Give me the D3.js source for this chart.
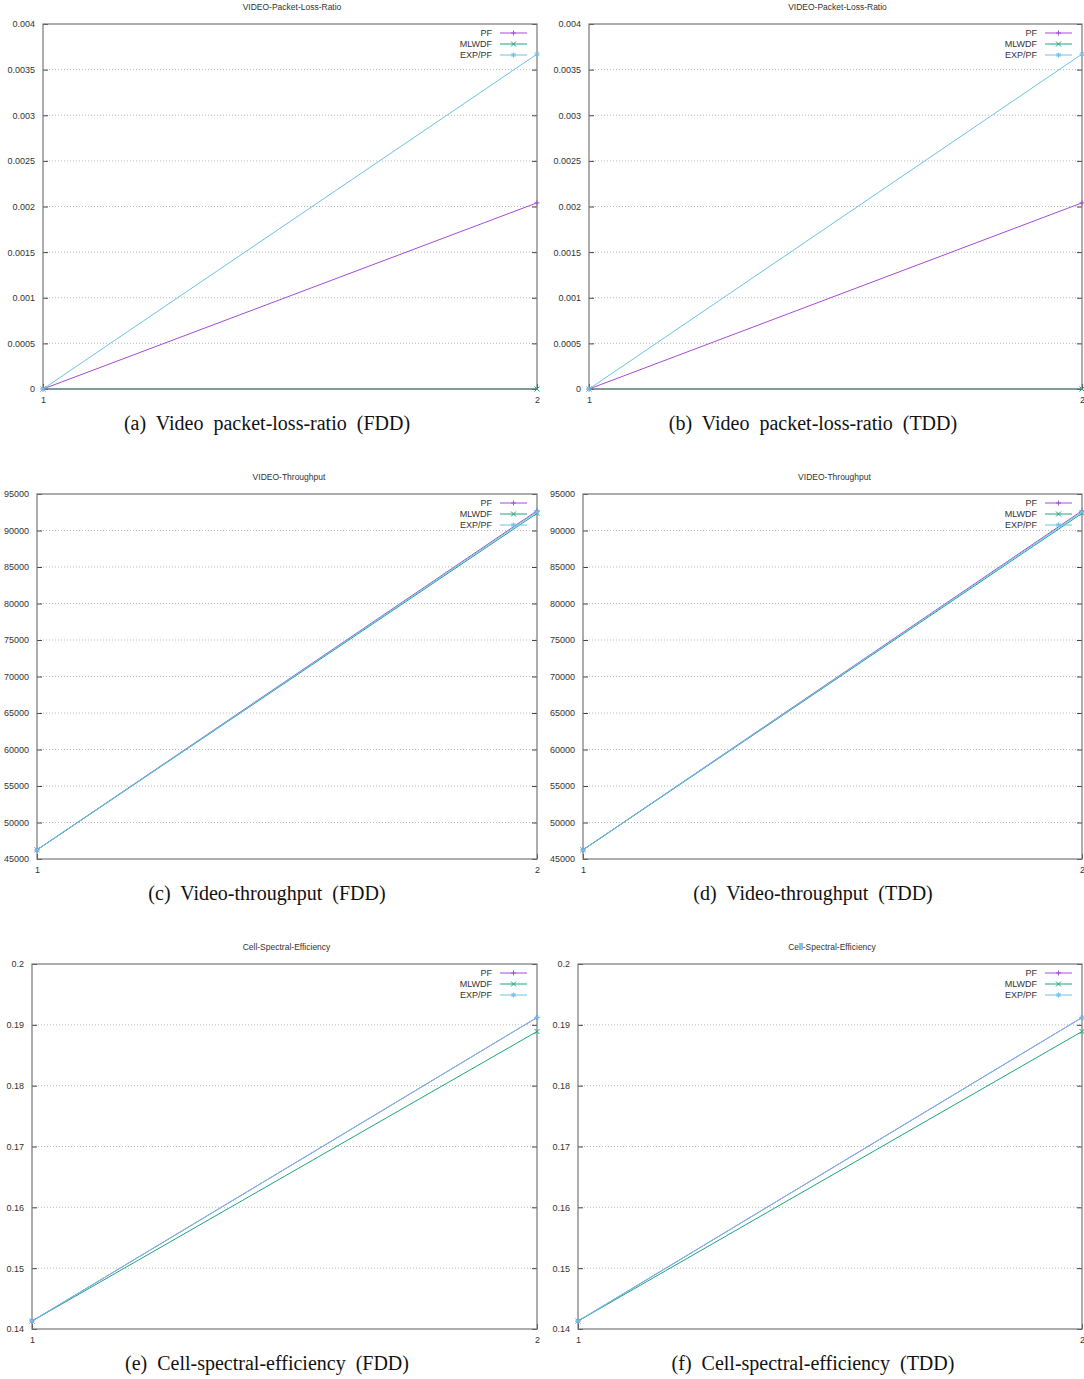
<!DOCTYPE html>
<html>
<head>
<meta charset="utf-8">
<script src="https://cdn.jsdelivr.net/npm/d3@7"></script>
<style>
  body { margin: 0; background: #fff; }
  svg { display: block; }
  .tick-label { font-family: "Liberation Sans", Arial, sans-serif; font-size: 9px; fill: #333; }
  .plot-title { font-family: "Liberation Sans", Arial, sans-serif; font-size: 8.5px; fill: #333; }
  .caption { font-family: "Liberation Serif", "Times New Roman", serif; font-size: 20px; word-spacing: 5px; fill: #111; }
</style>
</head>
<body>
<div id="chart"></div>
<script>
// shared x categories (scenario index)
const xValues = [1, 2];
const seriesNames = ['PF', 'MLWDF', 'EXP/PF'];
const seriesColors = ['#a64ad8', '#1aa57e', '#6cc2e6'];
const seriesMarkers = ['plus', 'cross', 'star'];

// packet loss ratio (same in FDD and TDD)
const plrPF = [0, 0.00204];
const plrMLWDF = [0, 0];
const plrEXP = [0, 0.00367];
const plrTicks = [0, 0.0005, 0.001, 0.0015, 0.002, 0.0025, 0.003, 0.0035, 0.004];

// video throughput
const thrPF = [46250, 92700];
const thrMLWDF = [46250, 92350];
const thrEXP = [46250, 92550];
const thrTicks = [45000, 50000, 55000, 60000, 65000, 70000, 75000, 80000, 85000, 90000, 95000];

// cell spectral efficiency
const csePF = [0.1413, 0.1912];
const cseMLWDF = [0.1413, 0.1889];
const cseEXP = [0.1413, 0.1912];
const cseTicks = [0.14, 0.15, 0.16, 0.17, 0.18, 0.19, 0.2];

const panels = [
  { title: 'VIDEO-Packet-Loss-Ratio', caption: '(a) Video packet-loss-ratio (FDD)', series: [plrPF, plrMLWDF, plrEXP], ticks: plrTicks,
    x0: 43, x1: 537, y0: 24, y1: 389 },
  { title: 'VIDEO-Packet-Loss-Ratio', caption: '(b) Video packet-loss-ratio (TDD)', series: [plrPF, plrMLWDF, plrEXP], ticks: plrTicks,
    x0: 589, x1: 1082, y0: 24, y1: 389 },
  { title: 'VIDEO-Throughput', caption: '(c) Video-throughput (FDD)', series: [thrPF, thrMLWDF, thrEXP], ticks: thrTicks,
    x0: 37, x1: 537, y0: 494, y1: 859 },
  { title: 'VIDEO-Throughput', caption: '(d) Video-throughput (TDD)', series: [thrPF, thrMLWDF, thrEXP], ticks: thrTicks,
    x0: 583, x1: 1082, y0: 494, y1: 859 },
  { title: 'Cell-Spectral-Efficiency', caption: '(e) Cell-spectral-efficiency (FDD)', series: [csePF, cseMLWDF, cseEXP], ticks: cseTicks,
    x0: 32, x1: 537, y0: 964, y1: 1329 },
  { title: 'Cell-Spectral-Efficiency', caption: '(f) Cell-spectral-efficiency (TDD)', series: [csePF, cseMLWDF, cseEXP], ticks: cseTicks,
    x0: 578, x1: 1082, y0: 964, y1: 1329 }
];

const width = 1084, height = 1379;
const svg = d3.select('#chart').append('svg')
  .attr('width', width)
  .attr('height', height);

function drawMarker(g, type, x, y, color) {
  const s = 2.5;
  let d;
  if (type === 'plus') d = `M${x - s},${y}H${x + s}M${x},${y - s}V${y + s}`;
  else if (type === 'cross') d = `M${x - s},${y - s}L${x + s},${y + s}M${x - s},${y + s}L${x + s},${y - s}`;
  else d = `M${x - s},${y}H${x + s}M${x},${y - s}V${y + s}M${x - s * 0.75},${y - s * 0.75}L${x + s * 0.75},${y + s * 0.75}M${x - s * 0.75},${y + s * 0.75}L${x + s * 0.75},${y - s * 0.75}`;
  g.append('path').attr('d', d).attr('stroke', color).attr('stroke-width', 1).attr('fill', 'none');
}

panels.forEach(p => {
  const g = svg.append('g');
  const x = d3.scaleLinear().domain([1, 2]).range([p.x0, p.x1]);
  const y = d3.scaleLinear().domain(d3.extent(p.ticks)).range([p.y1, p.y0]);
  const fmt = v => String(+v.toPrecision(6));

  // grid
  g.selectAll('.grid').data(p.ticks.slice(1, -1)).enter().append('line')
    .attr('x1', p.x0).attr('x2', p.x1)
    .attr('y1', d => y(d)).attr('y2', d => y(d))
    .attr('stroke', '#aaa').attr('stroke-width', 0.8)
    .attr('stroke-dasharray', '1,2');

  // series
  const line = d3.line().x((d, i) => x(xValues[i])).y(d => y(d));
  p.series.forEach((vals, si) => {
    g.append('path').datum(vals)
      .attr('d', line)
      .attr('fill', 'none')
      .attr('stroke', seriesColors[si])
      .attr('stroke-width', 1);
  });

  // y axis left
  const yAxis = g.append('g').attr('transform', `translate(${p.x0},0)`)
    .call(d3.axisLeft(y).tickValues(p.ticks).tickFormat(fmt).tickSizeInner(-5).tickSizeOuter(0).tickPadding(8));
  // mirror ticks on right
  const yAxisR = g.append('g').attr('transform', `translate(${p.x1},0)`)
    .call(d3.axisRight(y).tickValues(p.ticks).tickFormat('').tickSizeInner(-5).tickSizeOuter(0));
  const xAxis = g.append('g').attr('transform', `translate(0,${p.y1})`)
    .call(d3.axisBottom(x).tickValues(xValues).tickFormat(d3.format('d')).tickSizeInner(-5).tickSizeOuter(0).tickPadding(8));
  [yAxis, yAxisR, xAxis].forEach(a => {
    a.select('.domain').remove();
    a.selectAll('line').attr('stroke', '#444');
    a.selectAll('text').attr('class', 'tick-label').attr('fill', '#333');
  });

  // border drawn over the lines
  g.append('rect')
    .attr('x', p.x0).attr('y', p.y0)
    .attr('width', p.x1 - p.x0).attr('height', p.y1 - p.y0)
    .attr('fill', 'none').attr('stroke', '#777').attr('stroke-width', 1.2);

  // point markers
  p.series.forEach((vals, si) => {
    vals.forEach((v, i) => drawMarker(g, seriesMarkers[si], x(xValues[i]), y(v), seriesColors[si]));
  });

  // legend
  const lx = p.x1 - 45, ly = p.y0 + 9;
  seriesNames.forEach((name, si) => {
    const yy = ly + si * 11;
    g.append('text').attr('class', 'tick-label')
      .attr('x', lx).attr('y', yy).attr('dy', '0.35em')
      .attr('text-anchor', 'end').text(name);
    g.append('line')
      .attr('x1', lx + 8).attr('x2', lx + 35)
      .attr('y1', yy).attr('y2', yy)
      .attr('stroke', seriesColors[si]).attr('stroke-width', 1);
    drawMarker(g, seriesMarkers[si], lx + 21.5, yy, seriesColors[si]);
  });

  // title
  g.append('text').attr('class', 'plot-title')
    .attr('x', (p.x0 + p.x1) / 2 + 2).attr('y', p.y0 - 14)
    .attr('text-anchor', 'middle').text(p.title);

  // caption
  g.append('text').attr('class', 'caption')
    .attr('x', p.x0 < 300 ? 267 : 813).attr('y', p.y1 + 41)
    .attr('text-anchor', 'middle').text(p.caption);
});
</script>
</body>
</html>
